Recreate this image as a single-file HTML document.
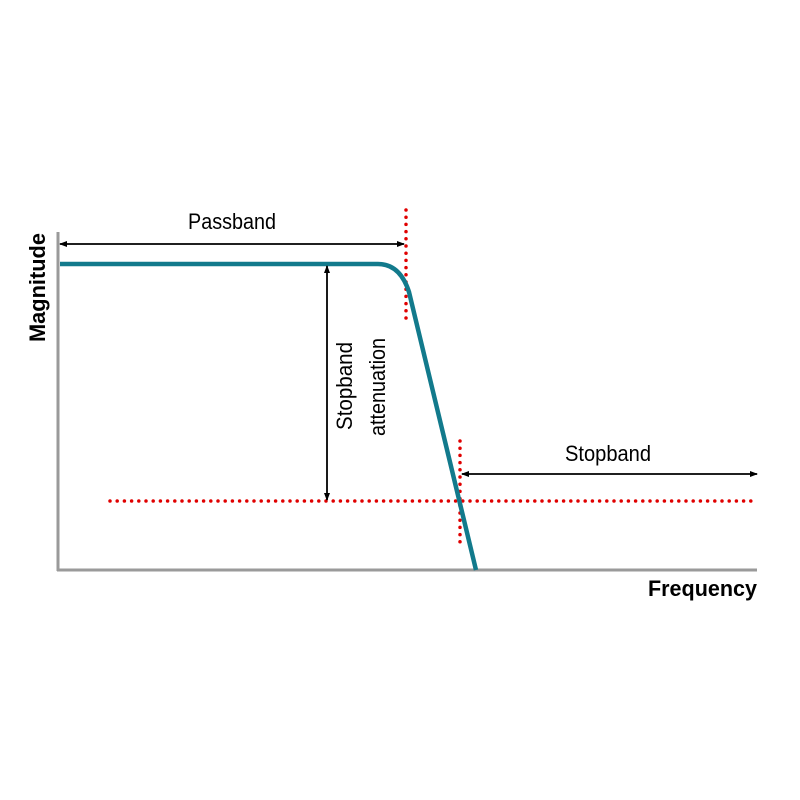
<!DOCTYPE html>
<html><head><meta charset="utf-8"><style>
html,body{margin:0;padding:0;background:#fff;width:800px;height:800px;overflow:hidden}
text{font-family:"Liberation Sans Narrow","Liberation Sans",sans-serif}
</style></head><body>
<svg width="800" height="800" viewBox="0 0 800 800" xmlns="http://www.w3.org/2000/svg">
<defs>
<marker id="a" markerWidth="8" markerHeight="8" refX="7" refY="4" orient="auto-start-reverse" markerUnits="userSpaceOnUse">
<path d="M0,1 L8,4 L0,7 Z" fill="#000"/></marker>
</defs>
<line x1="58" y1="232" x2="58" y2="571" stroke="#9a9a9a" stroke-width="3"/>
<line x1="57" y1="570" x2="757" y2="570" stroke="#9a9a9a" stroke-width="3"/>
<g stroke="#e00000" stroke-width="3.5" stroke-linecap="round" stroke-dasharray="0,7.2" fill="none">
<line x1="406" y1="210" x2="406" y2="318"/>
<line x1="460" y1="441" x2="460" y2="546"/>
<line x1="110" y1="501" x2="757" y2="501"/>
</g>
<path d="M60,264 L378,264 Q400,264 409,292 L476,570" fill="none" stroke="#127a8c" stroke-width="4.5"/>
<line x1="60" y1="244" x2="404" y2="244" stroke="#000" stroke-width="1.8" marker-start="url(#a)" marker-end="url(#a)"/>
<line x1="462" y1="474" x2="757" y2="474" stroke="#000" stroke-width="1.8" marker-start="url(#a)" marker-end="url(#a)"/>
<line x1="327" y1="266" x2="327" y2="500" stroke="#000" stroke-width="1.8" marker-start="url(#a)" marker-end="url(#a)"/>
<text x="188" y="229" font-size="22" textLength="88" lengthAdjust="spacingAndGlyphs">Passband</text>
<text x="565" y="461" font-size="22" textLength="86" lengthAdjust="spacingAndGlyphs">Stopband</text>
<text transform="translate(352,430) rotate(-90)" font-size="22" textLength="88" lengthAdjust="spacingAndGlyphs">Stopband</text>
<text transform="translate(385,436) rotate(-90)" font-size="22" textLength="98" lengthAdjust="spacingAndGlyphs">attenuation</text>
<text transform="translate(45,342) rotate(-90)" font-size="22" font-weight="bold" textLength="109" lengthAdjust="spacingAndGlyphs">Magnitude</text>
<text x="648" y="596" font-size="22" font-weight="bold" textLength="109" lengthAdjust="spacingAndGlyphs">Frequency</text>
</svg>
</body></html>
